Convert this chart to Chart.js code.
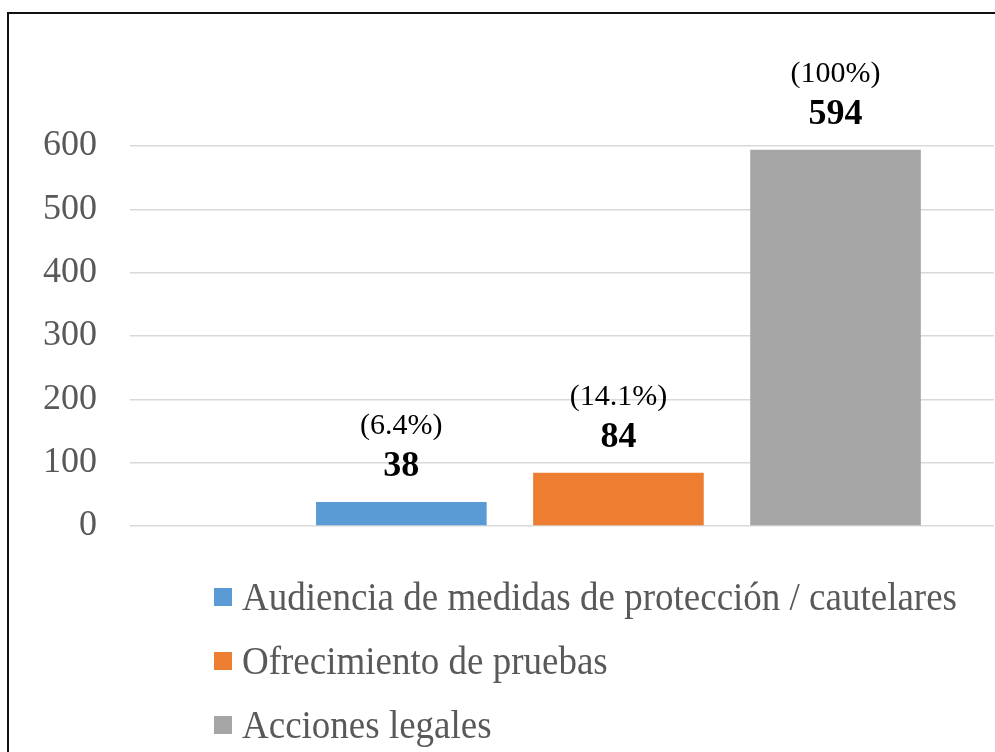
<!DOCTYPE html>
<html>
<head>
<meta charset="utf-8">
<script src="https://cdn.jsdelivr.net/npm/chart.js@4/dist/chart.umd.min.js"></script>
<style>
  html, body { margin:0; padding:0; background:#fff; width:995px; height:752px; overflow:hidden; }
  #wrap { position:relative; width:995px; height:752px; }
  #frame { position:absolute; left:7px; top:12px; width:1000px; height:760px; border-left:2px solid #111; border-top:2.5px solid #111; box-sizing:border-box; }
  #chart { position:absolute; left:0; top:0; }
  #legend { position:absolute; left:214px; top:579px; font-family:'Liberation Serif','Times New Roman',serif; font-size:37px; color:#595959; }
  .row { position:absolute; left:0; height:37px; line-height:37px; white-space:nowrap; }
  .box { position:absolute; left:0; top:9px; width:18px; height:18px; }
  .txt { position:absolute; left:28px; top:0; display:inline-block; transform:scaleY(1.1); transform-origin:0 31px; }
</style>
</head>
<body>
<div id="wrap">
  <canvas id="chart" width="995" height="752"></canvas>
  <div id="frame"></div>
  <div id="legend"></div>
</div>
<script>
const categories = ['Audiencia de medidas de protección / cautelares', 'Ofrecimiento de pruebas', 'Acciones legales'];
const values = [38, 84, 594];
const pctLabels = ['(6.4%)', '(14.1%)', '(100%)'];
const colors = ['#5b9bd5', '#ed7d31', '#a5a5a5'];
const yTickValues = [0, 100, 200, 300, 400, 500, 600];

const FONT = "'Liberation Serif','Times New Roman',serif";

const barLabels = {
  id: 'barLabels',
  afterDatasetsDraw(chart) {
    const ctx = chart.ctx;
    chart.data.datasets.forEach((ds, i) => {
      const meta = chart.getDatasetMeta(i);
      meta.data.forEach((bar, j) => {
        ctx.save();
        ctx.textAlign = 'center';
        ctx.textBaseline = 'alphabetic';
        ctx.fillStyle = '#000';
        ctx.font = 'bold 36px ' + FONT;
        ctx.fillText(String(ds.data[j].y), bar.x, bar.y - 26);
        ctx.font = '30px ' + FONT;
        ctx.fillText(pctLabels[i], bar.x, bar.y - 68);
        ctx.restore();
      });
    });
  }
};

const chart = new Chart(document.getElementById('chart'), {
  type: 'bar',
  data: {
    datasets: categories.map((c, i) => ({
      label: c,
      data: [{ x: i + 1, y: values[i] }],
      backgroundColor: colors[i],
      borderWidth: 0,
      grouped: false,
      barPercentage: 0.786,
      categoryPercentage: 1
    }))
  },
  options: {
    responsive: false,
    animation: false,
    devicePixelRatio: 1,
    layout: { padding: { top: 146, bottom: 226, left: 43, right: 1 } },
    plugins: { legend: { display: false }, tooltip: { enabled: false } },
    scales: {
      x: {
        type: 'linear',
        offset: false,
        min: -0.25,
        max: 3.73,
        grid: { display: false, drawTicks: false },
        border: { display: false },
        ticks: { display: false, stepSize: 1 },
        afterBuildTicks: s => { s.ticks = s.ticks.filter(t => Number.isInteger(t.value)); },
        afterFit: s => { s.height = 0; }
      },
      y: {
        min: yTickValues[0],
        max: yTickValues[yTickValues.length - 1],
        afterBuildTicks: s => { s.ticks = yTickValues.map(v => ({ value: v })); },
        afterFit: s => { s.width = 87; },
        grid: { color: '#d9d9d9', lineWidth: 1.5, drawTicks: false },
        border: { display: false },
        ticks: { color: '#595959', padding: 33, font: { family: FONT, size: 36 } }
      }
    }
  },
  plugins: [barLabels]
});

const legend = document.getElementById('legend');
chart.data.datasets.forEach((ds, i) => {
  const row = document.createElement('div');
  row.className = 'row';
  row.style.top = (i * 64) + 'px';
  const box = document.createElement('span');
  box.className = 'box';
  box.style.background = ds.backgroundColor;
  const txt = document.createElement('span');
  txt.className = 'txt';
  txt.textContent = ds.label;
  row.appendChild(box);
  row.appendChild(txt);
  legend.appendChild(row);
});
</script>
</body>
</html>
